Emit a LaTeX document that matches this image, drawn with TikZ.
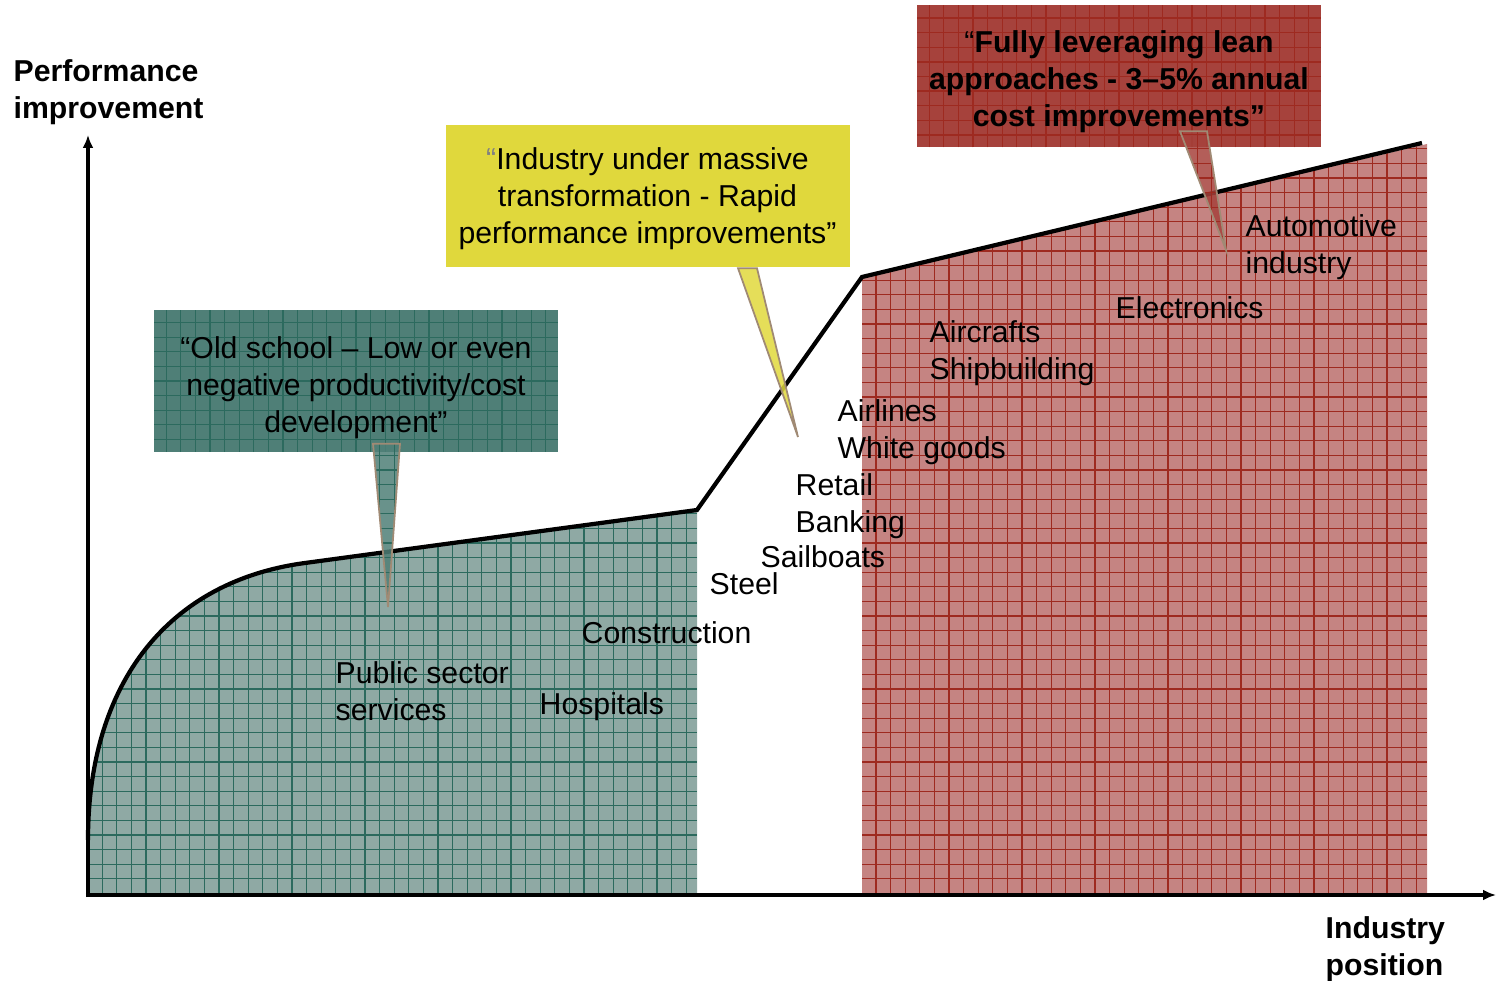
\documentclass[tikz,border=0pt]{standalone}
\usepackage{fontspec}
\setmainfont{Liberation Sans}
\usetikzlibrary{arrows.meta}
\definecolor{tealfill}{HTML}{8FA9A4}
\definecolor{tealbox}{HTML}{4F7F77}
\definecolor{tealline}{HTML}{2C6A5E}
\definecolor{redfill}{HTML}{C58482}
\definecolor{redbox}{HTML}{A6423C}
\definecolor{redline}{HTML}{9E2A20}
\definecolor{yellowbox}{HTML}{E0D83C}
\definecolor{pointerline}{HTML}{A08A74}
\tikzset{
	gridfill/.style n args={2}{fill=#1, path picture={\draw[#2, line width=.35pt, step=1.46mm] (path picture bounding box.south west) grid (path picture bounding box.north east);}},
	callout/.style={minimum width=4.04cm, minimum height=1.42cm, inner sep=0pt},
	callouttext/.style={inner sep=0pt, align=center},
	pointer/.style={draw=pointerline, line width=.5pt, fill opacity=.85},
	lbl/.style={anchor=west, inner sep=0pt, align=left},
	axis/.style={line width=1.2pt, -{Latex[length=1.3mm,width=1.1mm]}}
}

\begin{document}
\begin{tikzpicture}[font=\fontsize{8.6}{10.5}\selectfont]
	\useasboundingbox (0,0) rectangle (14.97,9.81);
	\path[gridfill={tealfill}{tealline}] (0.88,0.86) -- (0.88,1.41) .. controls (0.88,3.0) and (1.7,4.0) .. (3.05,4.18) -- (6.97,4.71) -- (6.97,0.86) -- cycle;
	\path[gridfill={redfill}{redline}] (8.62,0.86) -- (8.62,7.04) -- (14.27,8.37) -- (14.27,0.86) -- cycle;
	\draw[line width=1.2pt] (0.88,1.41) .. controls (0.88,3.0) and (1.7,4.0) .. (3.05,4.18) -- (6.97,4.71) -- (8.62,7.04) -- (14.22,8.38);
	\coordinate (origin) at (0.88,0.86);
	\coordinate (ytip) at (0.88,8.46);
	\coordinate (xtip) at (14.96,0.86);
	\draw[axis] ([yshift=-.6pt]origin) -- (ytip);
	\draw[axis] ([xshift=-.6pt]origin) -- (xtip);
	\node[lbl, font=\fontsize{8.6}{10.5}\selectfont\bfseries] (perf) at (0.13,8.885) {Performance\\improvement};
	\node[lbl, font=\fontsize{8.6}{10.5}\selectfont\bfseries] (pos) at (13.25,0.32) {Industry\\position};
	\node[callout, gridfill={tealbox}{tealline}] (oldschool) at (3.56,6.00) {};
	\node[callout, fill=yellowbox] (massive) at (6.475,7.845) {};
	\node[callout, gridfill={redbox}{redline}] (lean) at (11.19,9.045) {};
	\node[callouttext] (oldtext) at ([yshift=-.07cm]oldschool.center) {“Old school – Low or even\\negative productivity/cost\\development”};
	\node[callouttext] (massivetext) at ([yshift=-.02cm]massive.center) {{\color{gray}“}Industry under massive\\transformation - Rapid\\performance improvements”};
	\node[callouttext, font=\fontsize{8.6}{10.5}\selectfont\bfseries] (leantext) at ([yshift=-.05cm]lean.center) {{\mdseries “}Fully leveraging lean\\approaches - 3–5\% annual\\cost improvements”};
	\coordinate (oldtip) at (3.88,3.74);
	\coordinate (massivetip) at (7.98,5.44);
	\coordinate (leantip) at (12.26,7.31);
	\draw[pointer, gridfill={tealbox}{tealline}] ([shift={(0.17,0.09)}]oldschool.south) -- (oldtip) -- ([shift={(0.44,0.09)}]oldschool.south) -- cycle;
	\draw[pointer, fill=yellowbox] ([xshift=9.05mm]massive.south) -- (massivetip) -- ([xshift=10.95mm]massive.south) -- cycle;
	\draw[pointer, gridfill={redbox}{redline}] ([shift={(0.61,0.17)}]lean.south) -- (leantip) -- ([shift={(0.88,0.17)}]lean.south) -- cycle;
	\node[lbl] (auto) at (12.45,7.335) {Automotive\\industry};
	\node[lbl] (electro) at (11.15,6.73) {Electronics};
	\node[lbl] (aircraft) at (9.29,6.28) {Aircrafts\\Shipbuilding};
	\node[lbl] (airline) at (8.37,5.49) {Airlines\\White goods};
	\node[lbl] (retail) at (7.95,4.75) {Retail\\Banking};
	\node[lbl] (sailboat) at (7.60,4.24) {Sailboats};
	\node[lbl] (steel) at (7.09,3.97) {Steel};
	\node[lbl] (construct) at (5.81,3.48) {Construction};
	\node[lbl] (public) at (3.35,2.895) {Public sector\\services};
	\node[lbl] (hospital) at (5.39,2.74) {Hospitals};
\end{tikzpicture}
\end{document}
